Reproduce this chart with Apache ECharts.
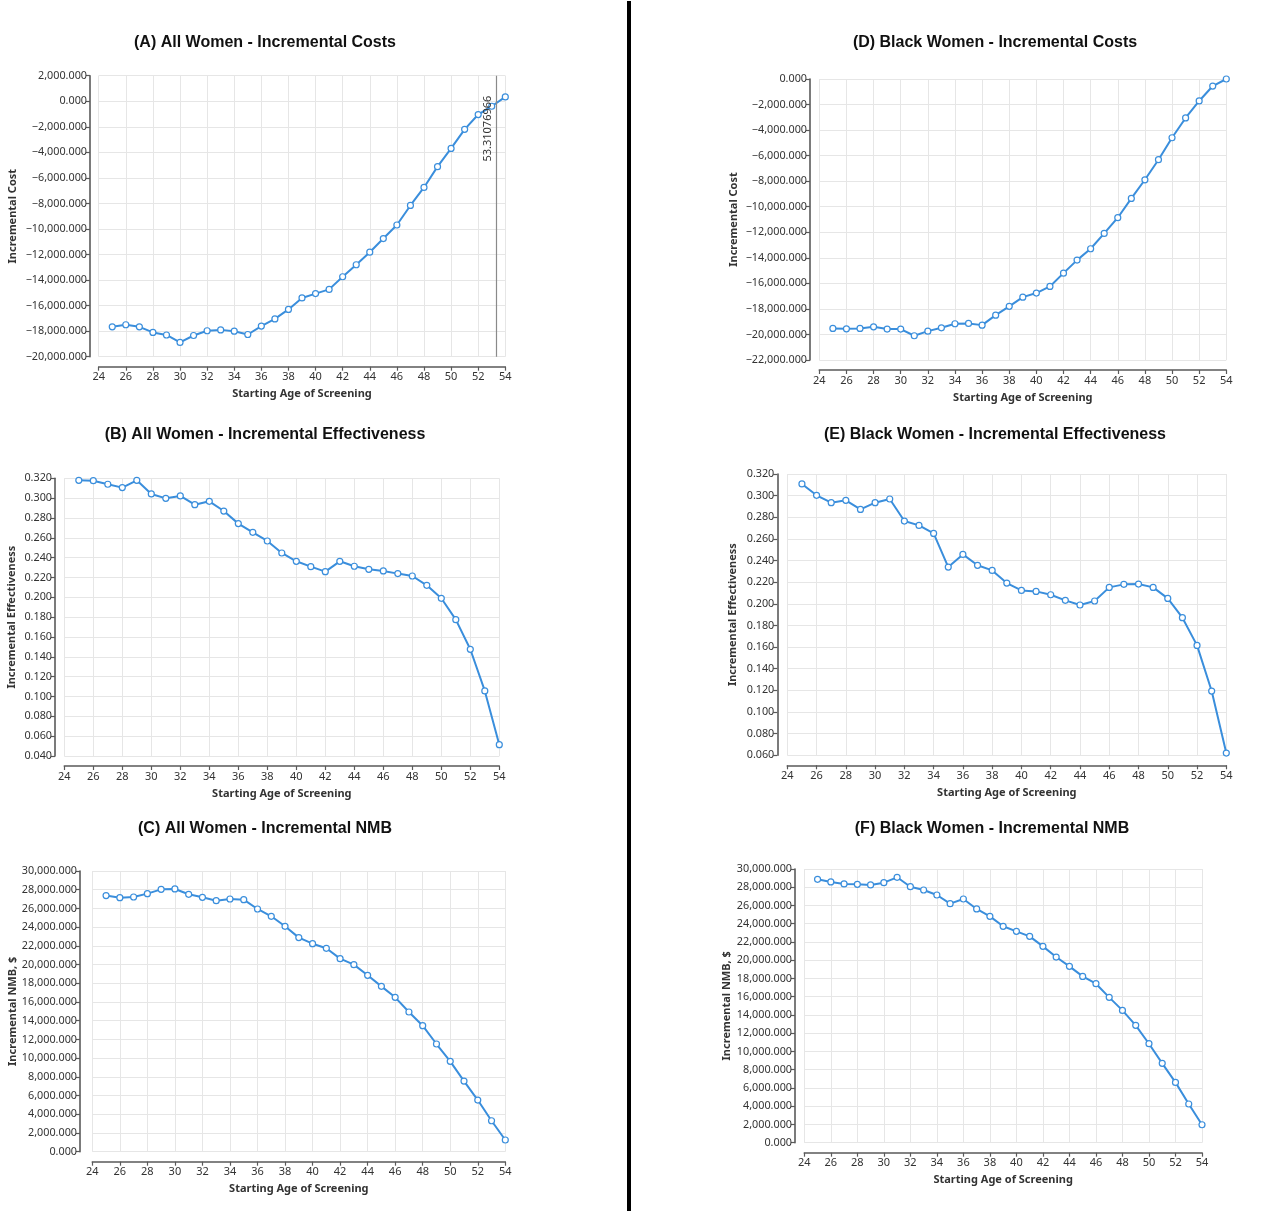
<!DOCTYPE html>
<html>
<head>
<meta charset="utf-8">
<title>Incremental outcomes by starting age of screening</title>
<script src="https://cdn.jsdelivr.net/npm/echarts@6.0.0/dist/echarts.min.js"></script>
<style>
  html, body { margin: 0; padding: 0; background: #fff; }
  #chart { width: 1280px; height: 1212px; }
</style>
</head>
<body>
<div id="chart"></div>
<script>
// starting age of screening (x values, shared by all panels)
const ages = [25, 26, 27, 28, 29, 30, 31, 32, 33, 34, 35, 36, 37, 38, 39,
  40, 41, 42, 43, 44, 45, 46, 47, 48, 49, 50, 51, 52, 53, 54];

// incremental cost (displayed units, labels show 3 decimals)
const costAll = [-17660, -17500, -17660, -18100, -18300, -18880, -18340, -17970, -17900, -18000,
  -18260, -17600, -17040, -16300, -15400, -15060, -14730, -13740, -12800, -11820,
  -10750, -9690, -8160, -6750, -5120, -3690, -2200, -1040, -390, 340];
const costBlack = [-19530, -19560, -19530, -19400, -19580, -19580, -20100, -19740, -19480, -19160,
  -19140, -19270, -18490, -17800, -17080, -16760, -16240, -15200, -14180, -13290,
  -12090, -10860, -9350, -7890, -6320, -4600, -3050, -1720, -550, 0];

// incremental effectiveness
const effAll = [0.318, 0.3176, 0.314, 0.3106, 0.318, 0.3042, 0.2998, 0.3022, 0.2934, 0.2968,
  0.287, 0.2743, 0.2655, 0.2568, 0.2447, 0.2363, 0.2309, 0.2259, 0.2363, 0.2313,
  0.2282, 0.2266, 0.2239, 0.2215, 0.2121, 0.199, 0.1775, 0.1476, 0.1056, 0.0514];
const effBlack = [0.3108, 0.3003, 0.2935, 0.2957, 0.2873, 0.2935, 0.2969, 0.2765, 0.2725, 0.2651,
  0.234, 0.2457, 0.2356, 0.2309, 0.2192, 0.2124, 0.2115, 0.2084, 0.2032, 0.1989,
  0.2026, 0.2152, 0.218, 0.2183, 0.2152, 0.205, 0.1872, 0.1616, 0.1194, 0.0621];

// incremental net monetary benefit
const nmbAll = [27370, 27150, 27220, 27580, 28040, 28080, 27510, 27190, 26830, 27010,
  26940, 25940, 25160, 24090, 22880, 22230, 21740, 20630, 19990, 18850,
  17670, 16500, 14930, 13470, 11510, 9660, 7550, 5520, 3310, 1250];
const nmbBlack = [28870, 28580, 28360, 28320, 28250, 28500, 29090, 28060, 27700, 27150,
  26200, 26710, 25620, 24810, 23720, 23170, 22620, 21520, 20350, 19330,
  18230, 17430, 15930, 14500, 12860, 10850, 8700, 6610, 4240, 1970];

// vertical reference line in panel A
const costThresholdAge = 53.31076966;

const panelTitles = [
  "(A) All Women - Incremental Costs",
  "(B) All Women - Incremental Effectiveness",
  "(C) All Women - Incremental NMB",
  "(D) Black Women - Incremental Costs",
  "(E) Black Women - Incremental Effectiveness",
  "(F) Black Women - Incremental NMB"
];
const yNames = ["Incremental Cost", "Incremental Effectiveness", "Incremental NMB, $",
  "Incremental Cost", "Incremental Effectiveness", "Incremental NMB, $"];

const lineColor = "#3a8edc";
const axisColor = "#5a5a5a";
const tickFont = "Noto Sans";

const fmtMoney = v => (v < 0 ? "\u2212" : "") +
  Math.abs(v).toLocaleString("en-US", { minimumFractionDigits: 3, maximumFractionDigits: 3 });
const fmtEff = v => v.toFixed(3);

// layout per panel: plot box and the outward offsets of the axes
const panels = [
  { data: costAll,  title: [260, 30],  box: [98.7, 75.7, 406.6, 281],  min: -20000, max: 2000,  step: 2000, fmt: fmtMoney, yOff: 8.7,  gap: 72 },
  { data: effAll,   title: [260, 422], box: [64.3, 478.3, 435, 277.7], min: 0.04,   max: 0.32,  step: 0.02, fmt: fmtEff,   yOff: 9.3,  gap: 38 },
  { data: nmbAll,   title: [260, 816], box: [92.3, 871, 413, 280.7],   min: 0,      max: 30000, step: 2000, fmt: fmtMoney, yOff: 12.3, gap: 62 },
  { data: costBlack, title: [990, 30],  box: [819.3, 79, 407, 281],    min: -22000, max: 0,     step: 2000, fmt: fmtMoney, yOff: 9.3,  gap: 71 },
  { data: effBlack,  title: [990, 422], box: [787.3, 474, 439, 281.3], min: 0.06,   max: 0.32,  step: 0.02, fmt: fmtEff,   yOff: 10,   gap: 39 },
  { data: nmbBlack,  title: [987, 816], box: [804.3, 869, 397.7, 273.7], min: 0,    max: 30000, step: 2000, fmt: fmtMoney, yOff: 9.3,  gap: 63 }
];

const chart = echarts.init(document.getElementById("chart"));

const option = {
  backgroundColor: "#fff",
  animation: false,
  title: panels.map((p, i) => ({
    text: panelTitles[i],
    left: p.title[0],
    top: p.title[1],
    textAlign: "center",
    textStyle: { fontFamily: "Liberation Sans", fontWeight: "bold", fontSize: 16, color: "#111" }
  })),
  grid: panels.map(p => ({
    left: p.box[0], top: p.box[1], width: p.box[2], height: p.box[3],
    containLabel: false
  })),
  xAxis: panels.map((p, i) => ({
    type: "value",
    gridIndex: i,
    min: 24, max: 54, interval: 2,
    offset: 10,
    name: "Starting Age of Screening",
    nameLocation: "middle",
    nameGap: 22,
    nameTextStyle: { fontFamily: tickFont, fontWeight: "bold", fontSize: 11, color: "#333" },
    axisLine: { show: true, onZero: false, lineStyle: { color: axisColor, width: 1.6 } },
    axisTick: { show: true, length: 4, lineStyle: { color: axisColor, width: 1.2 } },
    axisLabel: { fontFamily: tickFont, fontSize: 11, color: "#333", margin: 5 },
    splitLine: { show: true, lineStyle: { color: "#e6e6e6", width: 1 } }
  })),
  yAxis: panels.map((p, i) => ({
    type: "value",
    gridIndex: i,
    min: p.min, max: p.max, interval: p.step,
    offset: p.yOff,
    name: yNames[i],
    nameLocation: "middle",
    nameGap: p.gap,
    nameTextStyle: { fontFamily: tickFont, fontWeight: "bold", fontSize: 11, color: "#333" },
    axisLine: { show: true, lineStyle: { color: axisColor, width: 1.6 } },
    axisTick: { show: true, length: 4, lineStyle: { color: axisColor, width: 1.2 } },
    axisLabel: { fontFamily: tickFont, fontSize: 10.8, color: "#333", margin: 3, formatter: p.fmt },
    splitLine: { show: true, lineStyle: { color: "#e6e6e6", width: 1 } }
  })),
  series: panels.map((p, i) => {
    const s = {
      type: "line",
      xAxisIndex: i,
      yAxisIndex: i,
      data: ages.map((a, k) => [a, p.data[k]]),
      symbol: "circle",
      symbolSize: 6,
      showAllSymbol: true,
      lineStyle: { color: lineColor, width: 2 },
      itemStyle: { color: "#fff", borderColor: lineColor, borderWidth: 1.2 },
      z: 3
    };
    if (i === 0) {
      s.markLine = {
        silent: true,
        symbol: "none",
        lineStyle: { color: "#8a8a8a", type: "solid", width: 1.2 },
        label: {
          show: true,
          position: "insideEndTop",
          distance: [20, 3],
          formatter: () => String(costThresholdAge),
          fontFamily: tickFont, fontSize: 11, color: "#333"
        },
        data: [{ xAxis: costThresholdAge }]
      };
    }
    return s;
  }),
  graphic: [
    // black divider between the two columns of panels
    { type: "rect", left: 627, top: 1, shape: { width: 4, height: 1210 }, style: { fill: "#000" } }
  ]
};

chart.setOption(option);
</script>
</body>
</html>
